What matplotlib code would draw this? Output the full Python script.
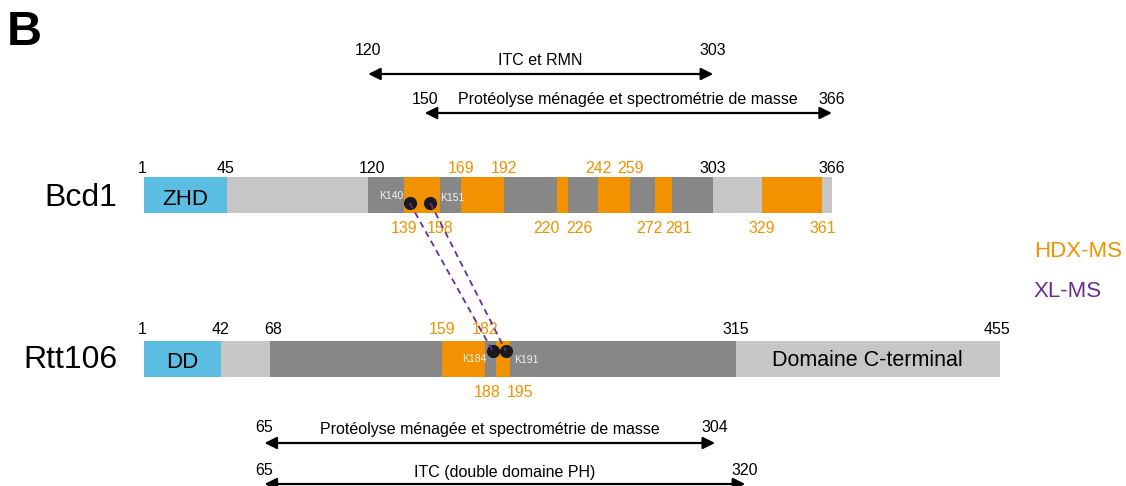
# Schéma des domaines de Bcd1 et Rtt106 (HDX-MS / XL-MS)

import matplotlib
matplotlib.use('Agg')
import matplotlib.pyplot as plt

plt.rcParams['font.family'] = ['Liberation Sans', 'DejaVu Sans']

# --- Données -------------------------------------------------------------
# Bcd1 : segments (début, fin, type)
bcd1_debuts = [1, 45, 120, 139, 158, 169, 192, 220, 226, 242, 259, 272, 281, 303, 329, 361]
bcd1_fins = [45, 120, 139, 158, 169, 192, 220, 226, 242, 259, 272, 281, 303, 329, 361, 366]
bcd1_types = ['domaine', 'clair', 'fonce', 'hdx', 'fonce', 'hdx', 'fonce', 'hdx',
              'fonce', 'hdx', 'fonce', 'hdx', 'fonce', 'clair', 'hdx', 'clair']

# Rtt106 : segments
rtt_debuts = [1, 42, 68, 159, 182, 188, 195, 315]
rtt_fins = [42, 68, 159, 182, 188, 195, 315, 455]
rtt_types = ['domaine', 'clair', 'fonce', 'hdx', 'fonce', 'hdx', 'fonce', 'clair']

# numéros affichés au-dessus / en dessous des barres
bcd1_haut = [1, 45, 120, 169, 192, 242, 259, 303, 366]
bcd1_bas = [139, 158, 220, 226, 272, 281, 329, 361]
rtt_haut = [1, 42, 68, 159, 182, 315, 455]
rtt_bas = [188, 195]

# lysines pontées (XL-MS) : K140-K184 et K151-K191
bcd1_lys = [140, 151]
rtt_lys = [184, 191]

# fragments étudiés
frag_debuts = [120, 150, 65, 65]
frag_fins = [303, 366, 304, 320]
frag_noms = ['ITC et RMN',
             'Protéolyse ménagée et spectrométrie de masse',
             'Protéolyse ménagée et spectrométrie de masse',
             'ITC (double domaine PH)']

# --- Style ---------------------------------------------------------------
W, H = 1126, 486
ORANGE = '#F39200'
VIOLET = '#6B2C91'
couleurs = {'domaine': '#5BBDE2', 'clair': '#C6C6C6',
            'fonce': '#878787', 'hdx': ORANGE}

# échelle : résidu 0 -> pixel 142, 1.885 px par résidu
ech = 1.885
x0 = 142

fig = plt.figure(figsize=(W / 100, H / 100), dpi=100)
ax = fig.add_axes([0, 0, 1, 1])
ax.set_xlim(-x0 / ech, (W - x0) / ech)
ax.set_ylim(H, 0)
ax.axis('off')


def barre(debuts, fins, types, yc, h=36):
    for d, f, t in zip(debuts, fins, types):
        ax.barh(yc, f - d, left=d, height=h, color=couleurs[t], linewidth=0)


def numeros(vals, ybase, hdx_bornes, decal):
    for v in vals:
        c = ORANGE if v in hdx_bornes else 'black'
        ax.annotate(str(v), xy=(v, ybase), xytext=(decal.get(v, 0), 0),
                    textcoords='offset pixels', ha='center', va='baseline',
                    fontsize=11.5, color=c)


def bornes_hdx(debuts, fins, types):
    s = set()
    for d, f, t in zip(debuts, fins, types):
        if t == 'hdx':
            s.update([d, f])
    return s


decal = {1: -2, 45: -1, 120: 4, 220: -10, 226: 11, 272: -5, 281: 7,
         42: -1, 68: 3, 188: -9, 195: 10, 455: -3}

# barres
barre(bcd1_debuts, bcd1_fins, bcd1_types, 195)
barre(rtt_debuts, rtt_fins, rtt_types, 359)

hb = bornes_hdx(bcd1_debuts, bcd1_fins, bcd1_types)
hr = bornes_hdx(rtt_debuts, rtt_fins, rtt_types)
numeros(bcd1_haut, 173, hb, decal)
numeros(bcd1_bas, 233, hb, decal)
numeros(rtt_haut, 334, hr, decal)
numeros(rtt_bas, 397, hr, decal)

# noms de domaines dans les barres
ax.text((bcd1_debuts[0] + bcd1_fins[0]) / 2, 205, 'ZHD', ha='center',
        va='baseline', fontsize=16)
ax.text((rtt_debuts[0] + rtt_fins[0]) / 2, 368, 'DD', ha='center',
        va='baseline', fontsize=16)
ax.text((rtt_debuts[-1] + rtt_fins[-1]) / 2, 366, 'Domaine C-terminal',
        ha='center', va='baseline', fontsize=15.5)

# lysines et pontages
dk = 2  # le point est légèrement décalé à droite du résidu
y_b, y_r = 203, 351
for kb, kr in zip(bcd1_lys, rtt_lys):
    ax.plot([kb + dk, kr + dk], [y_b, y_r], linestyle=(0, (3.5, 2.5)),
            color=VIOLET, lw=1.3, zorder=5)
ax.plot([k + dk for k in bcd1_lys], [y_b] * 2, 'o', color='#1A1A1A',
        markersize=8.5, zorder=4)
ax.plot([k + dk for k in rtt_lys], [y_r] * 2, 'o', color='#1A1A1A',
        markersize=8.5, zorder=4)

kstyle = dict(fontsize=7.5, color='#F2F2F2', va='baseline',
              textcoords='offset pixels')
ax.annotate(f'K{bcd1_lys[0]}', xy=(bcd1_lys[0] + dk, 199), xytext=(-6, 0),
            ha='right', **kstyle)
ax.annotate(f'K{bcd1_lys[1]}', xy=(bcd1_lys[1] + dk, 201), xytext=(10, 0),
            ha='left', **kstyle)
ax.annotate(f'K{rtt_lys[0]}', xy=(rtt_lys[0] + dk, 362), xytext=(-6, 0),
            ha='right', **kstyle)
ax.annotate(f'K{rtt_lys[1]}', xy=(rtt_lys[1] + dk, 363), xytext=(8, 0),
            ha='left', **kstyle)

# flèches des fragments (y : nombres, texte, flèche)
lignes = [(55, 65, 74), (104, 104, 113), (432, 434, 443), (475, 477, 484)]
for d, f, nom, (yn, yt, yf) in zip(frag_debuts, frag_fins, frag_noms, lignes):
    ax.annotate('', xy=(f, yf), xytext=(d, yf),
                arrowprops=dict(arrowstyle='<|-|>,head_length=0.6,head_width=0.3',
                                color='black', lw=1.6, mutation_scale=12,
                                shrinkA=0, shrinkB=0))
    ax.text(d, yn, str(d), ha='center', va='baseline', fontsize=11.5)
    ax.text(f, yn, str(f), ha='center', va='baseline', fontsize=11.5)
    ax.text((d + f) / 2, yt, nom, ha='center', va='baseline', fontsize=11.5)


# textes libres en pixels
def ftext(x, y, s, **kw):
    fig.text(x / W, 1 - y / H, s, va='baseline', **kw)


ftext(7, 45, 'B', fontsize=35, fontweight='bold', ha='left')
ftext(81, 206, 'Bcd1', fontsize=23, ha='center')
ftext(70, 368, 'Rtt106', fontsize=23, ha='center')
ftext(1034, 257, 'HDX-MS', fontsize=16, color=ORANGE, ha='left')
ftext(1034, 297, 'XL-MS', fontsize=16, color=VIOLET, ha='left')

fig.savefig('out.png', dpi=100)
